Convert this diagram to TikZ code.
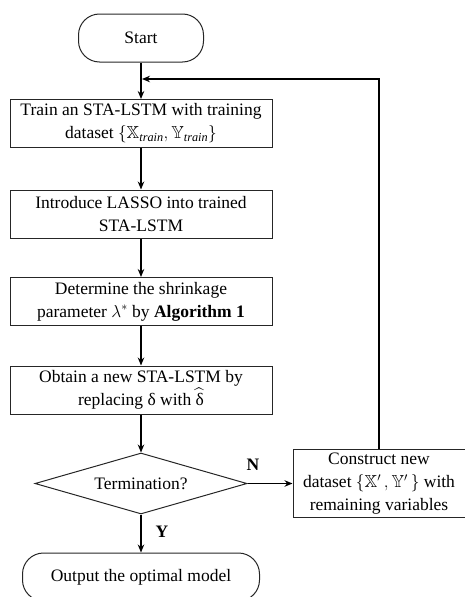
\documentclass[tikz,border=0pt]{standalone}
\usepackage{fontspec}
\usepackage{amsmath,amssymb}
\setmainfont{Liberation Serif}
\usetikzlibrary{shapes.geometric,arrows.meta}
\begin{document}
\begin{tikzpicture}[x=1pt,y=-1pt,
  every node/.style={font=\fontsize{17.5}{23}\selectfont, text=black},
  proc/.style={draw=black!85, line width=1pt, minimum width=262pt, minimum height=48pt, align=center, inner sep=2pt},
  terminal/.style={draw=black!85, line width=1pt, rounded corners=21pt, minimum height=48pt, align=center},
  decision/.style={diamond, draw=black!85, line width=1pt, shape aspect=3.47, minimum width=212pt, minimum height=61pt, inner sep=0pt},
  flow/.style={line width=1.6pt, -{Stealth[length=8pt,width=6.5pt]}},
  flag/.style={font=\fontsize{17.5}{23}\selectfont\bfseries},
]
\useasboundingbox (0,0) rectangle (465,597);

% main column
\node[terminal, minimum width=125pt] (start) at (141,38) {Start};
\node[proc] (train) at (141,123.5) {Train an STA-LSTM\ with training\\dataset $\{\mathbb{X}_{\mathit{train}},\mathbb{Y}_{\mathit{train}}\}$};
\node[proc] (lasso) at (141,214) {Introduce LASSO into trained\\STA-LSTM};
\node[proc] (shrink) at (141,301.5) {Determine the shrinkage\\parameter $\lambda^{*}$ by \textbf{Algorithm 1}};
\node[proc] (obtain) at (141,390) {Obtain a new STA-LSTM by\\replacing δ with $\widehat{\mbox{δ}}$};
\node[decision] (stop) at (141,483.5) {Termination?};
\node[terminal, minimum width=237pt] (output) at (141,577) {Output the optimal model};

% side branch
\node[proc, minimum width=172pt, minimum height=68pt] (construct) at (379,483.5)
  {Construct new\\dataset\ $\{\mathbb{X}'\,,\mathbb{Y}'\,\}$ with\\remaining variables};

\coordinate (join) at (142,79);

\draw[flow] (start) -- (train);
\draw[flow] (train) -- (lasso);
\draw[flow] (lasso) -- (shrink);
\draw[flow] (shrink) -- (obtain);
\draw[flow] (obtain) -- (stop);
\draw[flow] (stop) -- (output);
\draw[flow] (stop) -- (construct);
\draw[flow] (construct.north) |- (join);

\node[flag] (nlabel) at (253,465) {N};
\node[flag] (ylabel) at (162,532) {Y};
\end{tikzpicture}
\end{document}
